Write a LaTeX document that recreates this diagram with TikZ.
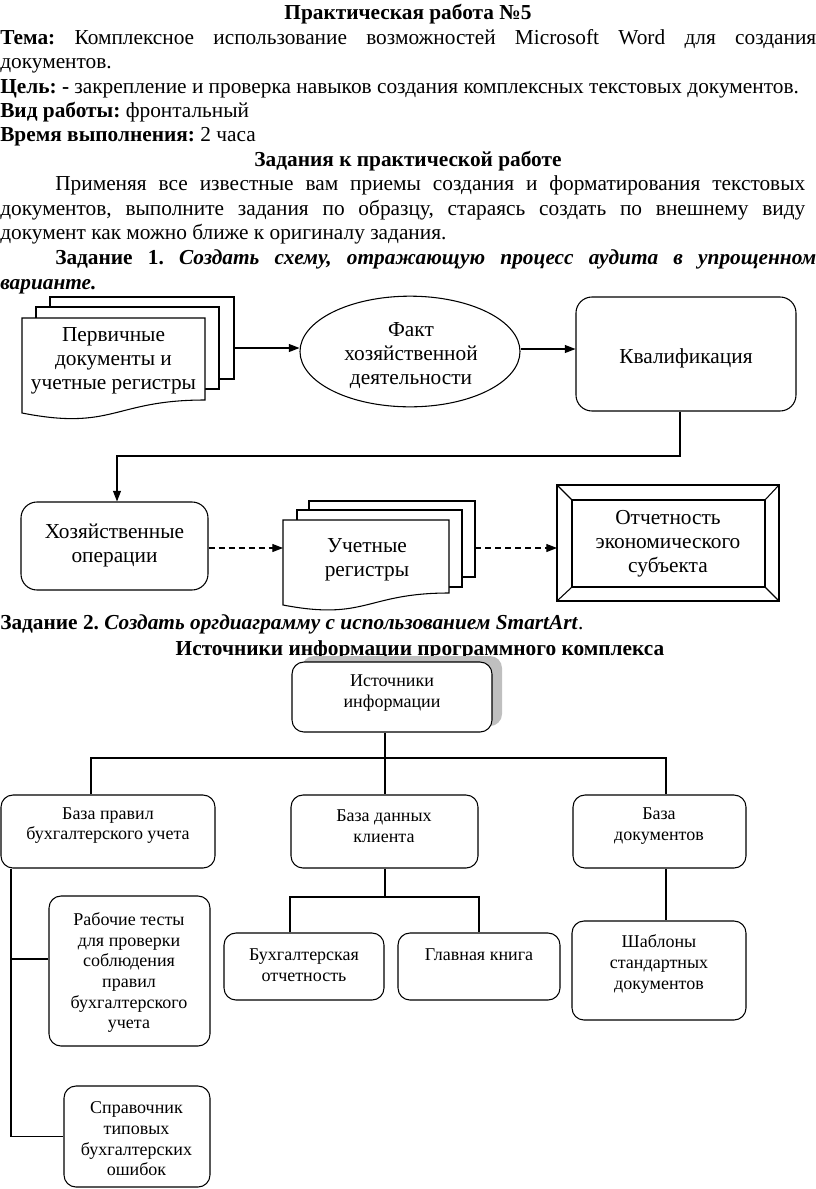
\documentclass[tikz,border=0pt]{standalone}
\usepackage{fontspec}
\setmainfont{Liberation Serif}
\usetikzlibrary{arrows.meta,shapes.geometric}
\newcommand\bodyf{\fontsize{16pt}{18pt}\selectfont}
\newcommand\orgf{\fontsize{13.5pt}{15.5pt}\selectfont}
\frenchspacing
\begin{document}
\begin{tikzpicture}[x=0.75pt,y=-0.75pt,
  ln/.style={line width=0.8pt},
  arr/.style={ln,-{Triangle[length=8pt,width=6pt]}},
  darr/.style={arr,dash pattern=on 4.5pt off 3pt},
  txt/.style={inner sep=0pt,align=center,font=\bodyf},
  otxt/.style={inner sep=0pt,align=center,font=\orgf},
  line/.style={anchor=base west,inner sep=0pt,font=\bodyf},
  rbox/.style={draw,ln,fill=white,rounded corners=12pt,inner sep=0pt},
  obox/.style={draw,ln,fill=white,rounded corners=9pt,inner sep=0pt},
  page/.style={draw,ln,fill=white}]
\useasboundingbox (0,0) rectangle (816,1189);
% ---------------- header text ----------------
\node[anchor=base,inner sep=0pt,font=\bodyf\bfseries] (title) at (408,19) {Практическая работа №5};
\node[line] (l1) at (0,44) {\makebox[612pt][s]{\textbf{Тема:} Комплексное использование возможностей Microsoft Word для создания}};
\node[line] (l2) at (0,68) {документов.};
\node[line] (l3) at (0,93) {\textbf{Цель: -} закрепление и проверка навыков создания комплексных текстовых документов.};
\node[line] (l4) at (0,117) {\textbf{Вид работы:} фронтальный};
\node[line] (l5) at (0,141) {\textbf{Время выполнения:} 2 часа};
\node[anchor=base,inner sep=0pt,font=\bodyf\bfseries] (zk) at (408,166) {Задания к практической работе};
\node[line] (l6) at (55,190) {\makebox[562.5pt][s]{Применяя все известные вам приемы создания и форматирования текстовых}};
\node[line] (l7) at (0,215) {\makebox[603.75pt][s]{документов, выполните задания по образцу, стараясь создать по внешнему виду}};
\node[line] (l8) at (0,239) {документ как можно ближе к оригиналу задания.};
\node[line] (l9) at (55,264) {\makebox[570.75pt][s]{\textbf{Задание 1.} \textbf{\textit{Создать схему, отражающую процесс аудита в упрощенном}}}};
\node[line] (l10) at (0,289) {\textbf{\textit{варианте.}}};
% ---------------- diagram 1 ----------------
% multidocument 1
\draw[page] (50,297) rectangle (234,379);
\draw[page] (36,307) rectangle (219,389);
\draw[page] (22,318) -- (205,318) -- (205,400) .. controls (113.5,400) and (113.5,431) .. (22,413) -- cycle;
\node[txt] (doc1) at (113.5,361) {Первичные\\документы и\\учетные регистры};
\coordinate (doc1r) at (234,348);
% ellipse
\node[draw,ln,ellipse,minimum width=165pt,minimum height=83pt,inner sep=0pt] (fact) at (410,351.5) {};
\node[txt] (factt) at (411,356) {Факт\\хозяйственной\\деятельности};
% kval
\node[rbox,minimum width=165pt,minimum height=85.5pt] (kval) at (686,354) {};
\node[txt] (kvalt) at (686,358) {Квалификация};
% hoz
\node[rbox,minimum width=140.25pt,minimum height=66pt] (hoz) at (114.5,546) {};
\node[txt] (hozt) at (114.5,545.5) {Хозяйственные\\операции};
% multidocument 2
\draw[page] (309,501) rectangle (475,577);
\draw[page] (297,510) rectangle (462,587);
\draw[page] (283,520) -- (449,520) -- (449,593) .. controls (366,593) and (366,621) .. (283,605) -- cycle;
\node[txt] (doc2) at (367,560) {Учетные\\регистры};
\coordinate (doc2l) at (283,548);
\coordinate (doc2r) at (475,548);
% report (bevel)
\draw[ln] (557,485) rectangle (779,601);
\draw[ln] (572,500) rectangle (765,587);
\draw[ln] (557,485) -- (572,500) (779,485) -- (765,500) (557,601) -- (572,587) (779,601) -- (765,587);
\coordinate (repl) at (557,548);
\node[txt] (rept) at (668,544) {Отчетность\\экономического\\субъекта};
% arrows
\draw[arr] (doc1r) -- (doc1r -| fact.west);
\draw[arr] (fact.east |- 0,349) -- (kval.west |- 0,349);
\coordinate (kdown) at (680,456);
\draw[arr] (kval.south -| kdown) -- (kdown) -- (117,456) -- (hoz.north -| 117,0);
\draw[darr] (hoz.east |- doc2l) -- (doc2l);
\draw[darr] (doc2r) -- (repl);
% ---------------- task 2 text ----------------
\node[line] (l11) at (0,629) {\textbf{Задание 2.} \textbf{\textit{Создать оргдиаграмму с использованием SmartArt}}.};
\node[anchor=base,inner sep=0pt,font=\bodyf\bfseries] (orgtitle) at (420,655) {Источники информации программного комплекса};
% ---------------- org chart ----------------
\fill[black!25,rounded corners=9pt] (302,656) rectangle (502,726);
\node[obox,minimum width=150pt,minimum height=52.5pt] (src) at (392,697) {};
\node[otxt] at (392,693) {Источники\\информации};
\node[obox,minimum width=160.5pt,minimum height=54.75pt] (b1) at (108,831.5) {};
\node[otxt] at (108,825.5) {База правил\\бухгалтерского учета};
\node[obox,minimum width=140.25pt,minimum height=54.75pt] (b2) at (384.5,831.5) {};
\node[otxt] at (384,826) {База данных\\клиента};
\node[obox,minimum width=129.75pt,minimum height=54.75pt] (b3) at (659.5,831.5) {};
\node[otxt] at (659,826) {База\\документов};
\node[obox,minimum width=120pt,minimum height=50.25pt] (bukh) at (304,966.5) {};
\node[otxt] at (304,965) {Бухгалтерская\\отчетность};
\node[obox,minimum width=121.5pt,minimum height=50.25pt] (glav) at (479,966.5) {};
\node[otxt] at (479,955) {Главная книга};
\node[obox,minimum width=130.5pt,minimum height=74.25pt] (shab) at (659,970.5) {};
\node[otxt] at (659,964) {Шаблоны\\стандартных\\документов};
\node[obox,minimum width=120.75pt,minimum height=112.5pt] (rab) at (129.5,971) {};
\node[otxt] at (129,972.5) {Рабочие тесты\\для проверки\\соблюдения\\правил\\бухгалтерского\\учета};
\node[obox,minimum width=109.5pt,minimum height=75.75pt] (spr) at (137,1136.5) {};
\node[otxt] at (136.5,1139) {Справочник\\типовых\\бухгалтерских\\ошибок};
% org connectors
\coordinate (hl) at (91,758);
\coordinate (hm) at (385,758);
\coordinate (hr) at (666,758);
\draw[ln] (src.south -| hm) -- (hm);
\draw[ln] (b1.north -| hl) -- (hl) -- (hr) -- (b3.north -| hr);
\draw[ln] (hm) -- (b2.north -| hm);
\coordinate (mj) at (385,897);
\draw[ln] (b2.south -| mj) -- (mj);
\draw[ln] (bukh.north -| 290,0) -- (290,897) -- (479,897) -- (glav.north);
\draw[ln] (b3.south -| hr) -- (shab.north -| hr);
\coordinate (lv) at (11,959);
\draw[ln] (b1.south -| lv) |- (spr.west);
\draw[ln] (lv) -- (rab.west |- lv);
\end{tikzpicture}
\end{document}
